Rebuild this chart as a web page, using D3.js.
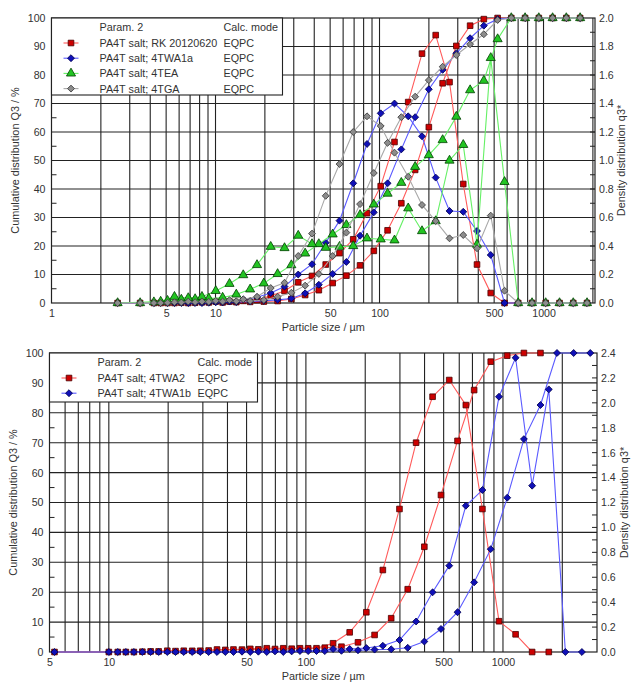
<!DOCTYPE html>
<html>
<head>
<meta charset="utf-8">
<script src="https://cdn.jsdelivr.net/npm/d3@7"></script>
<style>
  body { margin: 0; background: #fff; }
  text { font-family: "Liberation Sans", Arial, sans-serif; }
</style>
</head>
<body>
<svg id="chart" width="631" height="683"></svg>
<script>
// ---------- data: upper chart ----------
// cumulative values sit on the class limits, density values on the class centres
var topCumX = [3.47, 4.21, 5.10, 6.19, 7.51, 9.10, 11.05, 13.39, 16.26, 19.70, 23.91,
  29.0, 35.2, 42.65, 51.8, 62.8, 76.1, 92.3, 112.0, 135.8, 164.9,
  199.8, 242.6, 294.0, 356.8, 432.5, 525, 636, 772, 936, 1136, 1377, 1672];
var topDenX = [2.53, 4.63, 5.62, 6.82, 8.27, 10.03, 12.17, 14.76, 17.91, 21.71, 26.35,
  31.94, 38.76, 46.99, 57.03, 69.14, 83.9, 101.7, 123.4, 149.6, 181.6,
  220.1, 267.2, 324, 393, 476.6, 578.4, 701, 851, 1031, 1252, 1518, 1842];

var cumRK = [0, 0, 0, 0.1, 0.1, 0.2, 0.2, 0.3, 0.4, 0.5, 0.7,
  1.4, 2.8, 4.5, 7.0, 9.6, 13.2, 18.3, 25.5, 35.0, 46.7,
  61.7, 77.1, 90.2, 97.3, 99.6, 100, 100, 100, 100, 100, 100, 100];
var denRK = [0, 0, 0, 0, 0.005, 0.01, 0.01, 0.015, 0.02, 0.05, 0.084,
  0.145, 0.19, 0.27, 0.35, 0.447, 0.63, 0.82, 1.13, 1.41, 1.75,
  1.88, 1.55, 0.835, 0.27, 0.07, 0, 0, 0, 0, 0, 0, 0];

var cumTWA1a = [0, 0, 0, 0, 0, 0.1, 0.2, 0.3, 0.5, 0.8, 1.1,
  1.6, 3.4, 6.4, 10.2, 14.4, 23.6, 31.8, 42.0, 53.9, 65.2,
  75.0, 81.8, 87.6, 92.9, 97.3, 99.6, 100, 100, 100, 100, 100, 100];
var denTWA1a = [0, 0, 0, 0, 0, 0.005, 0.01, 0.025, 0.04, 0.07, 0.115,
  0.2, 0.272, 0.423, 0.578, 0.84, 1.116, 1.331, 1.40, 1.31, 1.17,
  0.88, 0.646, 0.64, 0.505, 0.337, 0, 0, 0, 0, 0, 0, 0];

var cumTEA = [0, 0.3, 0.8, 1.2, 1.4, 1.6, 1.9, 3.0, 4.8, 6.9, 10.2,
  13.3, 17.4, 20.7, 24.1, 27.4, 30.9, 34.6, 38.4, 42.2, 47.8,
  51.9, 57.2, 65.4, 74.7, 78.0, 92.6, 100, 100, 100, 100, 100, 100];
var denTEA = [0, 0.01, 0.044, 0.035, 0.044, 0.085, 0.135, 0.196, 0.267, 0.395, 0.386,
  0.473, 0.414, 0.388, 0.395, 0.40, 0.454, 0.447, 0.44, 0.665, 0.505,
  0.575, 1.0, 1.11, 0.41, 1.72, 0.85, 0, 0, 0, 0, 0, 0];

var cumTGA = [0, 0, 0.1, 0.2, 0.3, 0.4, 0.5, 0.6, 0.7, 1.05, 2.2,
  3.6, 6.1, 10.2, 16.5, 24.7, 34.7, 45.6, 56.2, 65.2, 72.4,
  78.2, 82.9, 87.0, 90.8, 94.3, 99.3, 100, 100, 100, 100, 100, 100];
var denTGA = [0, 0, 0.005, 0.01, 0.01, 0.015, 0.02, 0.026, 0.044, 0.105, 0.142,
  0.33, 0.487, 0.752, 0.975, 1.20, 1.31, 1.242, 1.055, 0.886, 0.688,
  0.575, 0.454, 0.477, 0.384, 0.613, 0.086, 0, 0, 0, 0, 0, 0];

// ---------- data: lower chart ----------
var botCumX = [5.3, 10.0, 12.2, 14.8, 17.9, 21.8, 26.5, 32.1, 39.0, 47.4, 57.4, 69.7, 84.7,
  102.7, 124.7, 151.5, 183.8, 223.1, 270.9, 328.6, 399, 484.6, 588, 713.9, 866.8,
  1051, 1277, 1550, 1880, 2284, 2773];
var botDenX = [11.1, 13.4, 16.3, 19.8, 24.0, 29.1, 35.4, 42.9, 52.2, 63.3, 76.8,
  93.3, 113.2, 137.4, 166.8, 202.6, 245.7, 298.4, 362.4, 439.4, 533.8, 648, 786.4,
  954.6, 1159, 1406, 1708, 2073, 2515];

var cumTWA2 = [0, 0, 0, 0.1, 0.2, 0.3, 0.4, 0.5, 0.7, 0.8, 0.9, 1.0, 1.1,
  1.24, 1.44, 1.77, 3.24, 5.7, 11.3, 21.0, 35.2, 52.5, 70.6, 87.6, 97.1,
  99.1, 100, 100, null, null, null];
var denTWA2 = [0, 0, 0.005, 0.01, 0.01, 0.01, 0.02, 0.02, 0.025, 0.03, 0.03,
  0.03, 0.03, 0.07, 0.158, 0.319, 0.658, 1.148, 1.68, 2.049, 2.183, 1.982, 1.148,
  0.247, 0.142, 0, 0, null, null];

var cumTWA1b = [0, 0, 0, 0, 0, 0, 0, 0, 0, 0.1, 0.1, 0.2, 0.2,
  0.3, 0.3, 0.4, 0.6, 0.8, 0.9, 1.4, 3.5, 7.7, 13.3, 23.3, 34.4,
  51.6, 71.2, 82.6, 100, 100, 100];
var denTWA1b = [0, 0, 0, 0, 0, 0, 0, 0, 0, 0, 0,
  0.008, 0.008, 0.024, 0.024, 0.032, 0.05, 0.096, 0.245, 0.479, 0.693, 1.174, 1.30,
  2.049, 2.362, 1.335, 2.108, 0, 0];

var topNames = ["PA4T salt; RK 20120620", "PA4T salt; 4TWA1a", "PA4T salt; 4TEA", "PA4T salt; 4TGA"];
var botNames = ["PA4T salt; 4TWA2", "PA4T salt; 4TWA1b"];
var topXTicks = [1, 5, 10, 50, 100, 500, 1000];
var botXTicks = [5, 10, 50, 100, 500, 1000];

// ---------- styles ----------
var red   = { line: "#ff5a5a", fill: "#cc0000", stroke: "#4a0000", shape: "square" };
var blue  = { line: "#5a5aff", fill: "#1010b8", stroke: "#000050", shape: "diamond" };
var green = { line: "#66f066", fill: "#22c422", stroke: "#004000", shape: "triangle" };
var gray  = { line: "#a8a8a8", fill: "#8c8c8c", stroke: "#3a3a3a", shape: "diamond" };

var svg = d3.select("#chart");

function symbolPath(shape) {
  if (shape == "square") return d3.symbol().type(d3.symbolSquare).size(32)();
  if (shape == "triangle") return d3.symbol().type(d3.symbolTriangle).size(36)();
  return d3.symbol().type(d3.symbolSquare).size(24)();
}

function zip(xs, ys) {
  var out = [];
  for (var i = 0; i < xs.length; i++)
    if (ys[i] != null) out.push([xs[i], ys[i]]);
  return out;
}

function drawPanel(p) {
  var x = d3.scaleLog().domain(p.xDomain).range([p.left, p.right]);
  var yL = d3.scaleLinear().domain([0, 100]).range([p.bottom, p.top]);
  var yR = d3.scaleLinear().domain([0, p.rMax]).range([p.bottom, p.top]);
  var g = svg.append("g");

  // grid
  var gx = [];
  [1, 10, 100, 1000].forEach(function(dec) {
    for (var k = 1; k <= 9; k++) {
      var v = dec * k;
      if (v > p.xDomain[0] && v < p.xDomain[1]) gx.push(v);
    }
  });
  g.selectAll(".vg").data(gx).join("line")
    .attr("x1", d => x(d)).attr("x2", d => x(d))
    .attr("y1", p.top).attr("y2", p.bottom)
    .attr("stroke", "#222").attr("stroke-width", 1.1);
  g.selectAll(".hg").data(d3.range(10, 100, 10)).join("line")
    .attr("x1", p.left).attr("x2", p.right)
    .attr("y1", d => yL(d)).attr("y2", d => yL(d))
    .attr("stroke", "#222").attr("stroke-width", 1.1);

  // small inner ticks
  g.selectAll(".lt").data(d3.range(5, 100, 10)).join("line")
    .attr("x1", p.left).attr("x2", p.left + 5)
    .attr("y1", d => yL(d)).attr("y2", d => yL(d))
    .attr("stroke", "#222");
  g.selectAll(".rt").data(d3.range(1, Math.round(p.rMax * 10)).map(d => d / 10)).join("line")
    .attr("x1", p.right - 5).attr("x2", p.right)
    .attr("y1", d => yR(d)).attr("y2", d => yR(d))
    .attr("stroke", "#222");

  g.append("rect")
    .attr("x", p.left).attr("y", p.top)
    .attr("width", p.right - p.left).attr("height", p.bottom - p.top)
    .attr("fill", "none").attr("stroke", "#222").attr("stroke-width", 1.2);

  // axes (labels only)
  var ax = g.append("g").attr("transform", "translate(" + p.left + ",0)")
    .call(d3.axisLeft(yL).tickValues(d3.range(0, 101, 10)).tickSize(0).tickPadding(6));
  var axr = g.append("g").attr("transform", "translate(" + p.right + ",0)")
    .call(d3.axisRight(yR).tickValues(d3.range(0, p.rMax + 0.01, 0.2)).tickSize(0).tickPadding(4)
      .tickFormat(d3.format(".1f")));
  var axb = g.append("g").attr("transform", "translate(0," + p.bottom + ")")
    .call(d3.axisBottom(x).tickValues(p.xTicks).tickSize(0).tickPadding(6).tickFormat(d3.format("d")));
  [ax, axr, axb].forEach(function(a) {
    a.select(".domain").remove();
    a.attr("font-size", 10.6).attr("font-family", "Liberation Sans, Arial, sans-serif").attr("color", "#333");
  });

  // titles
  g.append("text").attr("transform", "translate(" + p.ltX + "," + (p.top + p.bottom) / 2 + ") rotate(-90)")
    .attr("text-anchor", "middle").attr("font-size", 10.9).attr("fill", "#333")
    .text("Cumulative distribution Q3 / %");
  g.append("text").attr("transform", "translate(" + p.rtX + "," + (p.top + p.bottom) / 2 + ") rotate(-90)")
    .attr("text-anchor", "middle").attr("font-size", 10.9).attr("fill", "#333")
    .text("Density distribution q3*");
  g.append("text").attr("x", (p.left + p.right) / 2).attr("y", p.bottom + 28)
    .attr("text-anchor", "middle").attr("font-size", 10.9).attr("fill", "#333")
    .text("Particle size / µm");

  // series
  var line = d3.line();
  p.series.forEach(function(s) {
    var c = zip(s.cumX, s.cum), dd = zip(s.denX, s.den);
    g.append("path").attr("d", line(c.map(d => [x(d[0]), yL(d[1])])))
      .attr("fill", "none").attr("stroke", s.st.line).attr("stroke-width", 1.1);
    g.append("path").attr("d", line(dd.map(d => [x(d[0]), yR(d[1])])))
      .attr("fill", "none").attr("stroke", s.st.line).attr("stroke-width", 1.1);
    var pts = c.map(d => [x(d[0]), yL(d[1])]).concat(dd.map(d => [x(d[0]), yR(d[1])]));
    g.selectAll(null).data(pts).join("path")
      .attr("d", symbolPath(s.st.shape))
      .attr("transform", d => "translate(" + d[0] + "," + d[1] + ")" + (s.st.shape == "diamond" ? " rotate(45)" : ""))
      .attr("fill", s.st.fill).attr("stroke", s.st.stroke).attr("stroke-width", 0.8);
  });

  // legend
  var lg = g.append("g");
  lg.append("rect").attr("x", p.left).attr("y", p.top)
    .attr("width", p.legW).attr("height", p.legH)
    .attr("fill", "#fff").attr("stroke", "#222").attr("stroke-width", 1.1);
  lg.append("text").attr("x", p.left + 48).attr("y", p.top + 13).attr("font-size", 10.8).attr("fill", "#333").text("Param. 2");
  lg.append("text").attr("x", p.left + p.modeX).attr("y", p.top + 13).attr("font-size", 10.8).attr("fill", "#333").text("Calc. mode");
  p.series.forEach(function(s, i) {
    var cy = p.top + 25 + i * 15.2;
    lg.append("line").attr("x1", p.left + 12).attr("x2", p.left + 27).attr("y1", cy).attr("y2", cy)
      .attr("stroke", s.st.line).attr("stroke-width", 1.1);
    lg.append("path").attr("d", symbolPath(s.st.shape))
      .attr("transform", "translate(" + (p.left + 19.5) + "," + cy + ")" + (s.st.shape == "diamond" ? " rotate(45)" : ""))
      .attr("fill", s.st.fill).attr("stroke", s.st.stroke).attr("stroke-width", 0.8);
    lg.append("text").attr("x", p.left + 48).attr("y", cy + 4).attr("font-size", 10.8).attr("fill", "#333").text(s.name);
    lg.append("text").attr("x", p.left + p.modeX).attr("y", cy + 4).attr("font-size", 10.8).attr("fill", "#333").text("EQPC");
  });
}

drawPanel({
  left: 51.5, right: 595, top: 18, bottom: 303,
  xDomain: [1, 2060], rMax: 2.0, xTicks: topXTicks,
  ltX: 19, rtX: 625, legW: 231, legH: 77, modeX: 172,
  series: [
    { name: topNames[0], st: red,   cumX: topCumX, cum: cumRK,    denX: topDenX, den: denRK },
    { name: topNames[1], st: blue,  cumX: topCumX, cum: cumTWA1a, denX: topDenX, den: denTWA1a },
    { name: topNames[2], st: green, cumX: topCumX, cum: cumTEA,   denX: topDenX, den: denTEA },
    { name: topNames[3], st: gray,  cumX: topCumX, cum: cumTGA,   denX: topDenX, den: denTGA }
  ]
});

drawPanel({
  left: 49.5, right: 597, top: 353, bottom: 652,
  xDomain: [5, 3000], rMax: 2.4, xTicks: botXTicks,
  ltX: 17, rtX: 628, legW: 208, legH: 49, modeX: 148,
  series: [
    { name: botNames[0], st: red,  cumX: botCumX, cum: cumTWA2,  denX: botDenX, den: denTWA2 },
    { name: botNames[1], st: blue, cumX: botCumX, cum: cumTWA1b, denX: botDenX, den: denTWA1b }
  ]
});
</script>
</body>
</html>
